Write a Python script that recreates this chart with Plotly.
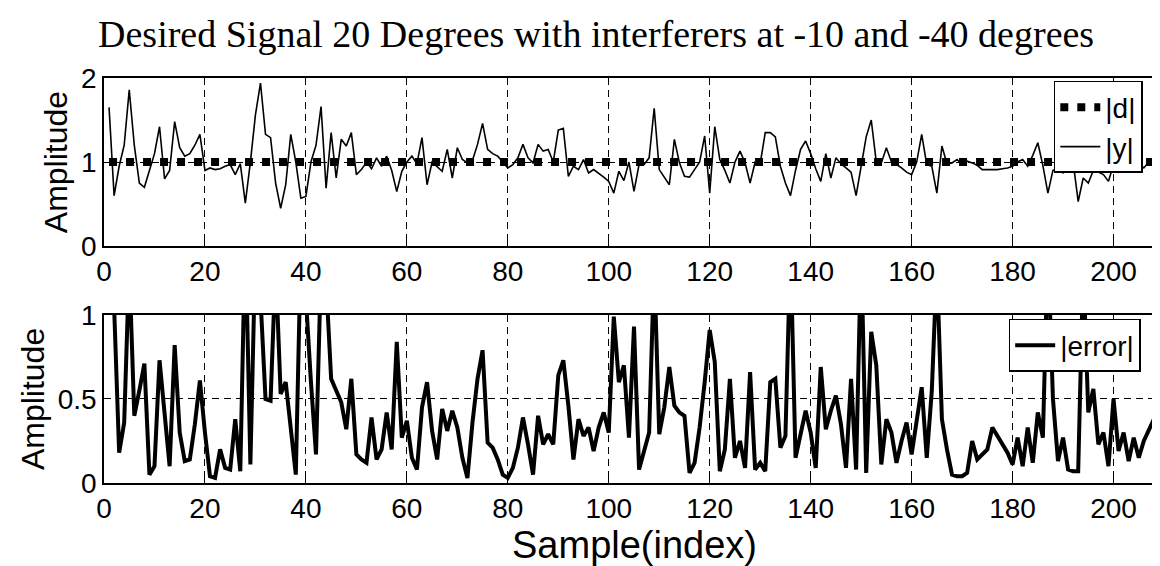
import plotly.graph_objects as go

# ---------------- data ----------------
samples = list(range(1, 211))

y_mag = [
    1.65, 0.6, 0.95, 1.2, 1.86, 1.2, 0.75, 0.7, 0.9, 1.1,
    1.42, 0.8, 0.9, 1.48, 1.17, 1.07, 1.1, 1.2, 1.33, 0.9,
    0.93, 0.91, 0.92, 0.95, 0.97, 0.85, 0.98, 0.51, 1.0, 1.56,
    1.94, 1.33, 1.29, 0.75, 0.45, 0.73, 1.33, 1.0, 0.57, 0.59,
    1.0, 1.2, 1.66, 0.69, 1.35, 0.81, 1.27, 1.19, 1.35, 0.85,
    0.91, 1.0, 0.92, 1.05, 0.95, 1.07, 0.9, 0.65, 0.89, 1.0,
    1.07, 0.98, 1.29, 0.73, 1.0, 0.95, 0.89, 1.15, 0.81, 1.17,
    1.03, 0.99, 1.02, 1.21, 1.46, 1.15, 1.1, 1.07, 1.0, 0.93,
    0.97, 1.05, 1.21, 1.05, 0.99, 1.21, 1.13, 1.15, 1.0, 1.38,
    1.4, 0.83, 0.95, 0.91, 1.03, 0.87, 0.91, 0.87, 0.82, 0.77,
    0.63, 0.89, 0.78, 1.0, 0.65, 0.97, 0.97, 1.05, 1.64, 0.91,
    0.82, 0.73, 1.27, 0.99, 0.83, 0.82, 0.91, 1.0, 1.31, 0.63,
    1.42, 1.03, 0.9, 0.75, 1.0, 1.13, 0.99, 0.75, 1.0, 0.98,
    1.35, 1.35, 1.3, 0.95, 0.75, 0.6, 0.9, 1.15, 1.25, 1.1,
    0.92, 0.77, 1.1, 0.81, 1.05, 0.98, 0.93, 0.88, 0.6, 0.97,
    1.3, 1.5, 1.0, 0.99, 1.17, 1.0, 0.97, 0.93, 0.88, 0.85,
    1.0, 1.33, 0.97, 0.95, 0.63, 1.19, 0.98, 0.99, 1.03, 0.97,
    1.01, 0.99, 0.96, 0.91, 0.91, 0.91, 0.91, 0.92, 0.93, 0.95,
    1.0, 1.03, 0.95, 1.08, 1.23, 0.96, 0.63, 0.9, 0.92, 0.87,
    0.95, 1.0, 0.53, 0.81, 0.75, 0.9, 0.88, 0.85, 0.77, 0.97,
    0.88, 0.95, 0.97, 1.0, 0.98, 0.93, 1.0, 1.02, 0.97, 1.05,
]

d_mag = [1.0] * len(samples)

err_mag = [
    1.5, 1.05, 0.18, 0.36, 1.3, 0.40, 0.55, 0.71, 0.05, 0.1,
    0.73, 0.42, 0.10, 0.82, 0.30, 0.13, 0.14, 0.35, 0.61, 0.3,
    0.04, 0.03, 0.20, 0.09, 0.08, 0.38, 0.07, 1.5, 0.11, 1.4,
    1.1, 0.5, 0.49, 1.3, 0.53, 0.60, 0.3, 0.05, 1.4, 1.1,
    0.6, 0.17, 1.3, 1.2, 0.62, 0.55, 0.48, 0.32, 0.62, 0.17,
    0.14, 0.12, 0.39, 0.14, 0.2, 0.42, 0.2, 0.84, 0.27, 0.37,
    0.15, 0.08, 0.45, 0.60, 0.31, 0.14, 0.44, 0.31, 0.43, 0.33,
    0.15, 0.03, 0.36, 0.62, 0.79, 0.24, 0.21, 0.14, 0.05, 0.03,
    0.09, 0.21, 0.39, 0.23, 0.05, 0.40, 0.23, 0.29, 0.23, 0.64,
    0.73, 0.46, 0.14, 0.38, 0.28, 0.33, 0.19, 0.33, 0.42, 0.3,
    0.99, 0.6, 0.7, 0.27, 0.93, 0.08, 0.19, 0.3, 1.3, 0.29,
    0.45, 0.69, 0.46, 0.42, 0.40, 0.06, 0.12, 0.33, 0.6, 0.91,
    0.72, 0.07, 0.2, 0.62, 0.15, 0.25, 0.09, 0.66, 0.08, 0.12,
    0.07, 0.60, 0.62, 0.21, 0.28, 1.4, 0.15, 0.29, 0.43, 0.3,
    0.09, 0.69, 0.32, 0.43, 0.52, 0.35, 0.09, 0.62, 0.08, 1.4,
    0.06, 0.90, 0.7, 0.11, 0.38, 0.3, 0.12, 0.25, 0.36, 0.17,
    0.38, 0.57, 0.15, 0.55, 1.3, 0.38, 0.2, 0.05, 0.04, 0.04,
    0.06, 0.25, 0.14, 0.17, 0.2, 0.33, 0.28, 0.22, 0.18, 0.11,
    0.27, 0.1, 0.33, 0.12, 0.42, 0.27, 1.4, 0.5, 0.13, 0.27,
    0.08, 0.07, 0.07, 1.3, 0.42, 0.56, 0.23, 0.3, 0.1, 0.5,
    0.19, 0.3, 0.13, 0.27, 0.15, 0.25, 0.32, 0.38, 0.2, 0.12,
]

x_ticks = [0, 20, 40, 60, 80, 100, 120, 140, 160, 180, 200]
top_yticks = [0, 1, 2]
bot_yticks = [0, 0.5, 1]
bot_yticktext = ["0", "0.5", "1"]

title_text = "Desired Signal 20 Degrees with interferers at -10 and -40 degrees"
xlabel_text = "Sample(index)"
ylabel_text = "Amplitude"

# ---------------- figure ----------------
SANS = "Liberation Sans, Arial, sans-serif"
SERIF = "Liberation Serif, Times New Roman, serif"

fig = go.Figure()

fig.add_trace(go.Scatter(
    x=samples, y=y_mag, mode="lines", name="|y|",
    line=dict(color="black", width=1.6),
    xaxis="x", yaxis="y", legend="legend", legendrank=2,
))
fig.add_trace(go.Scatter(
    x=samples, y=d_mag, mode="lines", name="|d|",
    line=dict(color="black", width=8, dash="8px,9px"),
    xaxis="x", yaxis="y", legend="legend", legendrank=1,
))
fig.add_trace(go.Scatter(
    x=samples, y=err_mag, mode="lines", name="|error|",
    line=dict(color="black", width=4),
    xaxis="x2", yaxis="y2", legend="legend2",
))

axis_common = dict(
    showline=True, linecolor="black", linewidth=1.5, mirror="ticks",
    ticks="inside", ticklen=6, tickwidth=1.2, tickcolor="black",
    showgrid=True, gridcolor="black", gridwidth=1.2, griddash="7px,5px",
    zeroline=False, automargin=False,
    tickfont=dict(family=SANS, size=28, color="black"),
)

fig.update_layout(
    width=1160, height=566,
    margin=dict(l=96, r=4, t=70, b=91, autoexpand=False),
    paper_bgcolor="white", plot_bgcolor="white",
    title=dict(
        text=title_text, x=0.507, xref="container", xanchor="center",
        y=0.955, yref="container", yanchor="middle", automargin=False,
        font=dict(family=SERIF, size=38, color="black"),
    ),
    xaxis=dict(domain=[0, 1], anchor="y", range=[0, 210],
               tickmode="array", tickvals=x_ticks, **axis_common),
    yaxis=dict(domain=[0.585, 1], anchor="x", range=[0, 2],
               tickmode="array", tickvals=top_yticks,
               title=dict(text=ylabel_text, standoff=4,
                          font=dict(family=SANS, size=32, color="black")),
               **axis_common),
    xaxis2=dict(domain=[0, 1], anchor="y2", range=[0, 210],
                tickmode="array", tickvals=x_ticks, **axis_common),
    yaxis2=dict(domain=[0, 0.415], anchor="x2", range=[0, 1],
                tickmode="array", tickvals=bot_yticks, ticktext=bot_yticktext,
                title=dict(text=ylabel_text, standoff=4,
                           font=dict(family=SANS, size=32, color="black")),
                **axis_common),
    legend=dict(
        x=0.980, xanchor="right", y=0.9926, yanchor="top",
        bgcolor="white", bordercolor="black", borderwidth=1.5,
        font=dict(family=SANS, size=28, color="black"),
        itemwidth=40, tracegroupgap=0,
    ),
    legend2=dict(
        x=0.978, xanchor="right", y=0.405, yanchor="top",
        bgcolor="white", bordercolor="black", borderwidth=1.5,
        font=dict(family=SANS, size=28, color="black"),
        itemwidth=40,
    ),
    showlegend=True,
    annotations=[dict(
        text=xlabel_text, xref="paper", yref="paper",
        x=0.5, y=-0.153, xanchor="center", yanchor="middle",
        showarrow=False, font=dict(family=SANS, size=38, color="black"),
    )],
)

fig.write_html("out.html")
